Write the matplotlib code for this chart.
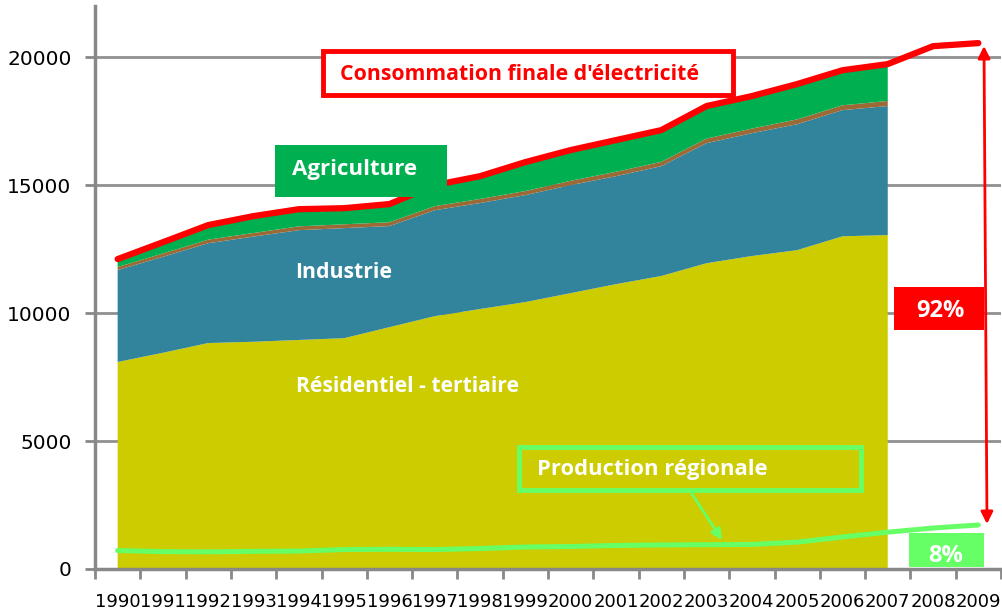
import numpy as np
import matplotlib
matplotlib.use("Agg")
import matplotlib.pyplot as plt
from matplotlib.patches import Rectangle

W, H = 1002, 610

years = [str(y) for y in range(1990, 2010)]
residentiel = [8090, 8450, 8830, 8880, 8950, 9020, 9450, 9880, 10160, 10430,
               10780, 11130, 11450, 11950, 12230, 12460, 13000, 13050]
industrie = [3590, 3750, 3900, 4110, 4290, 4300, 3950, 4140, 4140, 4180,
             4220, 4220, 4290, 4690, 4800, 4920, 4930, 5040]
autres = [120, 130, 140, 140, 150, 150, 150, 160, 160, 160,
          170, 170, 170, 180, 180, 190, 190, 200]
agriculture = [310, 440, 570, 660, 670, 630, 710, 820, 890, 1130,
               1200, 1240, 1240, 1270, 1270, 1380, 1370, 1440]
consommation = [12110, 12770, 13440, 13790, 14060, 14100, 14260, 15000, 15350, 15900,
                16370, 16760, 17150, 18090, 18480, 18950, 19490, 19730, 20430, 20550]
production = [720, 680, 670, 690, 700, 760, 770, 760, 800, 860,
              880, 920, 940, 950, 960, 1050, 1250, 1440, 1600, 1720]

c_res = "#CCCC00"
c_ind = "#31849B"
c_aut = "#9C6A36"
c_agr = "#00B050"
c_red = "#FF0000"
c_prod = "#66FF66"


def fxy(px, py):
    # pixel position in the picture -> figure fraction
    return px / W, 1 - py / H


fig = plt.figure(figsize=(W / 100, H / 100), dpi=100)
ax = fig.add_axes([95 / W, (H - 569) / H, 906 / W, 563 / H])

x = np.arange(len(years))
xa = x[:len(residentiel)]
ax.stackplot(xa, residentiel, industrie, autres, agriculture,
             colors=[c_res, c_ind, c_aut, c_agr], linewidth=0, zorder=2)
ax.plot(x, consommation, color=c_red, lw=4.5, solid_capstyle="round",
        solid_joinstyle="round", zorder=4)
ax.plot(x, production, color=c_prod, lw=3.6, solid_capstyle="round",
        solid_joinstyle="round", zorder=4)

ax.set_xlim(-0.5, len(years) - 0.5)
ax.set_ylim(0, 22000)
ax.set_yticks([0, 5000, 10000, 15000, 20000])
ax.set_xticks(x)
ax.set_xticklabels(years)
ax.set_xticks(np.arange(-0.5, len(years)), minor=True)
ax.tick_params(axis="x", which="major", length=0, pad=17, labelsize=13)
ax.tick_params(axis="x", which="minor", length=7, width=2, color="#888888")
ax.tick_params(axis="y", length=7, width=2, color="#888888", pad=10, labelsize=14.5)
ax.grid(axis="y", color="#909090", lw=2)
ax.set_axisbelow(True)
for s in ["top", "right"]:
    ax.spines[s].set_visible(False)
for s in ["left", "bottom"]:
    ax.spines[s].set_color("#888888")
    ax.spines[s].set_linewidth(2.5)


def box(x0, y0, x1, y1, face, edge=None, lw=0):
    (fx0, fy1), (fx1, fy0) = fxy(x0, y0), fxy(x1, y1)
    r = Rectangle((fx0, fy0), fx1 - fx0, fy1 - fy0, transform=fig.transFigure,
                  facecolor=face, edgecolor=edge if edge else face, lw=lw,
                  zorder=6, clip_on=False)
    fig.add_artist(r)


def label(px, py, s, color="white", size=15):
    fx, fy = fxy(px, py)
    fig.text(fx, fy, s, color=color, fontsize=size, fontweight="bold",
             ha="center", va="center", zorder=7, family="Open Sans")


# red double arrow and green pointer
ax.annotate("", xy=fxy(984, 46), xytext=fxy(987, 524), xycoords="figure fraction",
            textcoords="figure fraction",
            arrowprops=dict(arrowstyle="<|-|>", color=c_red, lw=2,
                            mutation_scale=18, shrinkA=0, shrinkB=0), zorder=5)
ax.annotate("", xy=fxy(722, 540), xytext=fxy(690, 491), xycoords="figure fraction",
            textcoords="figure fraction",
            arrowprops=dict(arrowstyle="-|>", color=c_prod, lw=2,
                            mutation_scale=16, shrinkA=0, shrinkB=0), zorder=5)

box(323, 51, 733, 95, "white", c_red, 3.5)
label(520, 74, "Consommation finale d'électricité", color=c_red, size=15.3)

box(275, 145, 447, 197, c_agr)
label(355, 170, "Agriculture", size=16)
label(344, 272, "Industrie", size=15.3)
label(408, 387, "Résidentiel - tertiaire", size=15.2)

box(519, 447, 861, 490, "none", c_prod, 3.5)
label(652, 470, "Production régionale", size=15.8)

box(894, 287, 984, 330, c_red)
label(940, 311, "92%", size=17)
box(909, 533, 984, 567, c_prod)
label(946, 556, "8%", size=17)

fig.savefig("out.png", dpi=100)
